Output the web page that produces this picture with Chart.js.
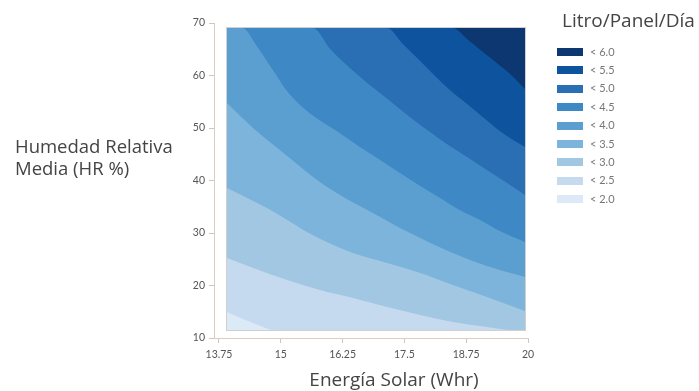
<!DOCTYPE html>
<html lang="es">
<head>
<meta charset="utf-8">
<script src="https://cdn.jsdelivr.net/npm/chart.js@4.4.1/dist/chart.umd.min.js"></script>
<style>
  html, body { margin: 0; padding: 0; background: #ffffff; }
  #wrap { width: 699px; height: 391px; position: relative; }
</style>
</head>
<body>
<div id="wrap"><canvas id="c" width="699" height="391"></canvas></div>
<script>
// Agua producida (Litro/Panel/Día) según energía solar y humedad relativa media.
// Cada curva de nivel se guarda como pares (energía, humedad) a lo largo del límite;
// la franja situada por encima de cada curva se rellena con el color del nivel siguiente.

const xTickValues = [13.75, 15, 16.25, 17.5, 18.75, 20];

// Extensión de la superficie con datos
const energiaMin = 13.91, energiaMax = 19.94;
const humedadMin = 11.52, humedadMax = 69.05;

// Niveles de menor a mayor
const bandLabels = ['< 2.0', '< 2.5', '< 3.0', '< 3.5', '< 4.0', '< 4.5', '< 5.0', '< 5.5', '< 6.0'];
const bandColors = ['#dce9f6', '#c5daee', '#a2c7e3', '#7cb4db', '#5a9fd0', '#3d88c5', '#2a6eb4', '#0e539e', '#0c3770'];

// Curvas de nivel (límite entre franjas)
const c20Energia = [13.91, 14.18, 14.44, 14.64, 14.84, 19.94];
const c20Humedad = [14.95, 13.81, 12.86, 12.10, 11.52, 11.52];

const c25Energia = [13.91, 14.44, 15.13, 15.79, 16.46, 17.15, 17.82, 18.48, 19.17, 19.70, 19.94];
const c25Humedad = [25.24, 23.33, 21.05, 19.14, 17.62, 15.90, 14.38, 13.05, 12.10, 11.52, 11.52];

const c30Energia = [13.91, 14.32, 14.72, 15.13, 15.53, 15.93, 16.46, 17.15, 17.82, 18.48, 19.17, 19.94];
const c30Humedad = [38.57, 36.67, 34.76, 32.48, 30.19, 28.29, 26.19, 24.29, 22.38, 20.10, 17.81, 15.14];

const c35Energia = [13.91, 14.18, 14.44, 14.78, 15.13, 15.45, 15.79, 16.20, 16.60, 17.01, 17.41, 17.82, 18.48, 19.17, 19.94];
const c35Humedad = [54.76, 52.29, 50.00, 47.33, 44.67, 42.19, 39.71, 37.24, 35.14, 33.05, 30.95, 29.05, 26.19, 23.71, 21.62];

const c40Energia = [13.91, 14.22, 14.54, 14.84, 15.11, 15.39, 15.69, 16.16, 16.60, 17.01, 17.41, 17.82, 18.22, 18.62, 19.03, 19.43, 19.94];
const c40Humedad = [69.05, 69.05, 65.24, 61.05, 57.24, 54.38, 52.10, 49.24, 46.38, 43.90, 41.43, 38.95, 36.67, 34.38, 32.48, 30.38, 28.29];

const c45Energia = [13.91, 15.65, 16.00, 16.40, 16.80, 17.21, 17.61, 18.02, 18.42, 18.83, 19.23, 19.64, 19.94];
const c45Humedad = [69.05, 69.05, 65.05, 61.43, 58.19, 55.14, 52.10, 49.24, 46.57, 44.10, 41.62, 39.14, 37.24];

const c50Energia = [13.91, 17.15, 17.47, 17.82, 18.12, 18.42, 18.77, 19.11, 19.43, 19.70, 19.94];
const c50Humedad = [69.05, 69.05, 66.00, 62.76, 59.90, 57.24, 54.57, 51.90, 49.43, 47.71, 46.38];

const c55Energia = [13.91, 18.48, 18.79, 19.09, 19.37, 19.66, 19.94];
const c55Humedad = [69.05, 69.05, 66.76, 64.48, 62.38, 60.10, 57.43];

const contours = [
  [c20Energia, c20Humedad],
  [c25Energia, c25Humedad],
  [c30Energia, c30Humedad],
  [c35Energia, c35Humedad],
  [c40Energia, c40Humedad],
  [c45Energia, c45Humedad],
  [c50Energia, c50Humedad],
  [c55Energia, c55Humedad]
];

const toPoints = (xs, ys) => xs.map((x, i) => ({ x: x, y: ys[i] }));

// Franja base (nivel más bajo) y, encima, una franja por cada curva.
// "order" menor = se pinta más tarde (encima).
const datasets = [{
  label: bandLabels[0],
  data: toPoints([energiaMin, energiaMax], [humedadMin, humedadMin]),
  backgroundColor: bandColors[0],
  fill: { value: humedadMax },
  order: contours.length + 1
}].concat(contours.map(([xs, ys], k) => ({
  label: bandLabels[k + 1],
  data: toPoints(xs, ys),
  backgroundColor: bandColors[k + 1],
  fill: { value: humedadMax },
  cubicInterpolationMode: 'monotone',
  order: contours.length - k
})));

datasets.forEach(d => { d.borderWidth = 0; d.pointRadius = 0; d.borderColor = 'rgba(0,0,0,0)'; });

const decorations = {
  id: 'decorations',
  afterDatasetsDraw(chart) {
    const ctx = chart.ctx;
    const xs = chart.scales.x, ys = chart.scales.y;
    const l = Math.round(xs.getPixelForValue(energiaMin));
    const r = Math.round(xs.getPixelForValue(energiaMax));
    const t = Math.round(ys.getPixelForValue(humedadMax));
    const b = Math.round(ys.getPixelForValue(humedadMin));
    ctx.save();
    ctx.strokeStyle = 'rgba(150,150,150,0.45)';
    ctx.lineWidth = 1;
    ctx.strokeRect(l - 0.5, t - 0.5, r - l + 1, b - t + 1);
    ctx.restore();
  },
  afterDraw(chart) {
    const ctx = chart.ctx;
    ctx.save();
    ctx.fillStyle = '#444444';
    ctx.textBaseline = 'middle';
    ctx.textAlign = 'left';
    ctx.font = '18.5px "Open Sans"';
    ctx.fillText('Humedad Relativa', 15, 148);
    ctx.fillText('Media (HR %)', 15, 170);
    ctx.textAlign = 'center';
    ctx.font = '19px "Open Sans"';
    ctx.fillText('Energía Solar (Whr)', 394, 381);
    ctx.textAlign = 'left';
    ctx.fillText('Litro/Panel/Día', 562, 22);

    // Leyenda: del nivel más alto al más bajo
    for (let i = 0; i < bandLabels.length; i++) {
      const k = bandLabels.length - 1 - i;
      const y = 52 + i * 18.4;
      ctx.fillStyle = bandColors[k];
      ctx.fillRect(557, Math.round(y - 4), 26, 8);
      ctx.fillStyle = '#777777';
      ctx.font = '11px Lato';
      ctx.fillText(bandLabels[k], 590, y);
    }
    ctx.restore();
  }
};

new Chart(document.getElementById('c'), {
  type: 'line',
  data: { datasets: datasets },
  options: {
    responsive: false,
    animation: false,
    events: [],
    layout: { padding: { top: 23, right: 171, bottom: 0, left: 0 } },
    plugins: { legend: { display: false }, tooltip: { enabled: false } },
    scales: {
      x: {
        type: 'linear',
        min: 13.649,
        max: 20,
        afterBuildTicks: (scale) => { scale.ticks = xTickValues.map(v => ({ value: v })); },
        afterFit: (scale) => { scale.height = 53; },
        ticks: {
          callback: (v) => String(v),
          color: '#555555',
          font: { family: 'Lato', size: 10.5 },
          padding: 5,
          maxRotation: 0,
          autoSkip: false
        },
        grid: { drawOnChartArea: false, tickLength: 5, color: '#cfc6bd' },
        border: { display: true, color: '#d9cfc6' }
      },
      y: {
        type: 'linear',
        min: 10,
        max: 70,
        afterFit: (scale) => { scale.width = 214; },
        ticks: {
          stepSize: 10,
          color: '#555555',
          font: { family: 'Lato', size: 10.5 },
          padding: 4
        },
        grid: { drawOnChartArea: false, tickLength: 5, color: '#cfc6bd' },
        border: { display: true, color: '#d9cfc6' }
      }
    }
  },
  plugins: [decorations]
});
</script>
</body>
</html>
